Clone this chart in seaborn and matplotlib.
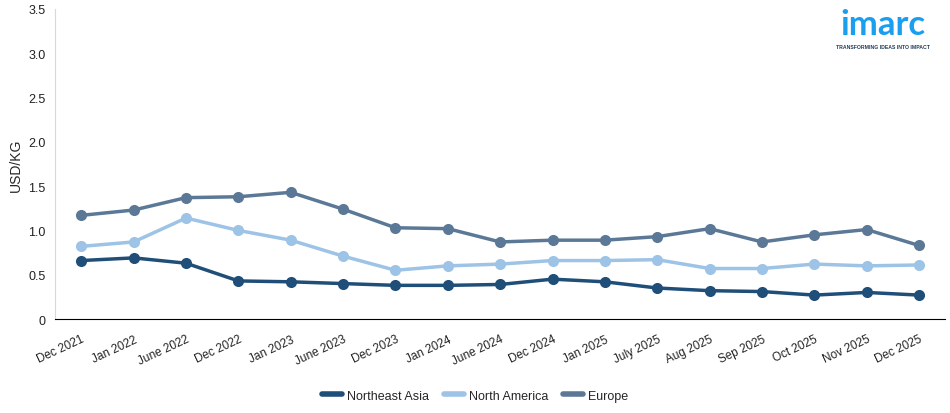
import pandas as pd
import matplotlib.pyplot as plt
import seaborn as sns

# Price series (USD/KG)
periods = ["Dec 2021", "Jan 2022", "June 2022", "Dec 2022", "Jan 2023", "June 2023",
           "Dec 2023", "Jan 2024", "June 2024", "Dec 2024", "Jan 2025", "July 2025",
           "Aug 2025", "Sep 2025", "Oct 2025", "Nov 2025", "Dec 2025"]
northeast_asia = [0.66, 0.69, 0.63, 0.43, 0.42, 0.40, 0.38, 0.38, 0.39, 0.45, 0.42,
                  0.35, 0.32, 0.31, 0.27, 0.30, 0.27]
north_america = [0.82, 0.87, 1.14, 1.00, 0.89, 0.71, 0.55, 0.60, 0.62, 0.66, 0.66,
                 0.67, 0.57, 0.57, 0.62, 0.60, 0.61]
europe = [1.17, 1.23, 1.37, 1.38, 1.43, 1.24, 1.03, 1.02, 0.87, 0.89, 0.89,
          0.93, 1.02, 0.87, 0.95, 1.01, 0.83]
regions = ["Northeast Asia", "North America", "Europe"]

df = pd.DataFrame({"Period": periods,
                   "Northeast Asia": northeast_asia,
                   "North America": north_america,
                   "Europe": europe})
long = df.melt(id_vars="Period", var_name="Region", value_name="Price")
long["x"] = long["Period"].map({p: i for i, p in enumerate(periods)})

palette = {"Northeast Asia": "#1f4e79", "North America": "#9dc3e6", "Europe": "#5b7997"}

sns.set_style("white")
plt.rcParams["font.family"] = ["Liberation Sans", "DejaVu Sans"]

fig = plt.figure(figsize=(9.5, 4.14), dpi=100)
ax = fig.add_axes([0.058, 0.227, 0.937, 0.749])

sns.lineplot(data=long, x="x", y="Price", hue="Region", hue_order=regions,
             palette=palette, marker="o", markersize=8, markeredgewidth=0,
             linewidth=2.5, ax=ax, legend=False)

ax.set_xlim(-0.5, len(periods) - 0.5)
ax.set_xticks(range(len(periods)))
ax.set_xticklabels(periods, rotation=25, ha="right", rotation_mode="anchor", fontsize=8.5)
ax.set_ylim(0, 3.5)
ax.set_yticks([0, 0.5, 1.0, 1.5, 2.0, 2.5, 3.0, 3.5])
ax.set_yticklabels(["0", "0.5", "1.0", "1.5", "2.0", "2.5", "3.0", "3.5"], fontsize=9)
ax.set_xlabel("")
ax.set_ylabel("USD/KG", fontsize=10)

sns.despine(ax=ax)
ax.spines["left"].set_color("#d9d9d9")
ax.spines["bottom"].set_color("black")
ax.tick_params(axis="y", length=5, color="#d9d9d9", labelcolor="#222222", pad=2)
ax.tick_params(axis="x", length=6, color="black", labelcolor="#222222", pad=4)

handles = [plt.Line2D([0], [0], color=palette[r], linewidth=4) for r in regions]
fig.legend(handles, regions, loc="lower center", bbox_to_anchor=(0.5, 0.0),
           ncol=3, frameon=False, fontsize=9, handlelength=1.6, columnspacing=1.2,
           handletextpad=0.4)

# imarc logo as text
fig.text(0.929, 0.94, "imarc", color="#1a9ef0", fontsize=25, fontweight="bold",
         ha="center", va="center", family="Lato")
fig.text(0.929, 0.886, "TRANSFORMING IDEAS INTO IMPACT", color="#1f3b57", fontsize=3.7,
         fontweight="bold", ha="center", va="center")

fig.savefig("out.png", dpi=100)
